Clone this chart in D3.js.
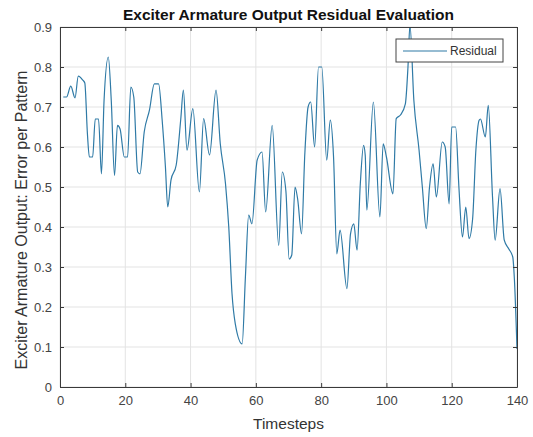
<!DOCTYPE html>
<html>
<head>
<meta charset="utf-8">
<script src="https://cdn.jsdelivr.net/npm/d3@7"></script>
<style>
  body { margin: 0; background: #fff; }
  text { font-family: "Liberation Sans", Arial, sans-serif; }
</style>
</head>
<body>
<div id="chart"></div>
<script>
// values (vertices of the residual trace)
const timesteps = [1, 2, 3.3, 4.6, 5.6, 7, 7.6, 8.4, 9, 10, 10.8, 11.8, 12.7, 13.5, 14.8, 15.7, 16.7, 17.6, 18.4,
  19.7, 20.7, 21.7, 22.6, 23.8, 24.5, 25.8, 27.4, 28.9, 30.2, 31.3, 32.3, 33, 34, 35.6, 37, 37.8, 38.9, 40.7,
  42.7, 44, 45.8, 47.8, 49.1, 50.7, 51.7, 52.7, 53.7, 55.8, 56.8, 57.8, 58.8, 60.4, 61.9, 63, 65, 67, 68.1,
  69.2, 70.2, 71, 72, 72.8, 74, 75, 76, 76.8, 78, 79.2, 80.2, 81.7, 82.8, 83.8, 84.8, 85.8, 87.9, 89, 90, 91,
  92, 93, 93.5, 94, 96, 98, 99, 100, 102, 103, 104.3, 105.8, 106.6, 107.2, 108.4, 110, 111, 112.2, 113.2,
  114.3, 115.3, 117.1, 118, 119.2, 120, 121.2, 122.2, 123.3, 124.3, 125.3, 126.4, 127.4, 128.4, 128.8, 130.3,
  131.2, 132.5, 133.3, 134.8, 136.1, 137.5, 138.7, 139.2, 140];
const residual = [0.725, 0.725, 0.752, 0.723, 0.777, 0.767, 0.76, 0.633, 0.575, 0.575, 0.67, 0.67, 0.533, 0.717,
  0.825, 0.717, 0.529, 0.654, 0.645, 0.575, 0.575, 0.75, 0.725, 0.5375, 0.533, 0.6375, 0.692, 0.758, 0.758,
  0.667, 0.55, 0.45, 0.517, 0.555, 0.67, 0.742, 0.592, 0.696, 0.4875, 0.671, 0.58, 0.742, 0.608, 0.508, 0.4,
  0.233, 0.158, 0.108, 0.275, 0.43, 0.408, 0.567, 0.5875, 0.4375, 0.654, 0.354, 0.5375, 0.49, 0.32, 0.33,
  0.5, 0.47, 0.383, 0.583, 0.7, 0.7125, 0.6, 0.8, 0.8, 0.567, 0.667, 0.575, 0.333, 0.392, 0.246, 0.383,
  0.408, 0.342, 0.508, 0.604, 0.58, 0.442, 0.7125, 0.425, 0.608, 0.575, 0.483, 0.671, 0.68, 0.708, 0.8,
  0.905, 0.717, 0.592, 0.5, 0.396, 0.5, 0.558, 0.475, 0.6125, 0.6, 0.458, 0.65, 0.65, 0.5, 0.375, 0.45,
  0.371, 0.42, 0.592, 0.667, 0.67, 0.625, 0.704, 0.475, 0.367, 0.496, 0.367, 0.345, 0.325, 0.27, 0.095];
const xTicks = [0, 20, 40, 60, 80, 100, 120, 140];
const yTicks = [0, 0.1, 0.2, 0.3, 0.4, 0.5, 0.6, 0.7, 0.8, 0.9];

const W = 533, H = 437;
const margin = {top: 27, right: 16, bottom: 50, left: 60};
const w = W - margin.left - margin.right;
const h = H - margin.top - margin.bottom;

const svg = d3.select("#chart").append("svg").attr("width", W).attr("height", H);
const g = svg.append("g").attr("transform", `translate(${margin.left},${margin.top})`);

const x = d3.scaleLinear().domain([0, 140]).range([0, w]);
const y = d3.scaleLinear().domain([0, 0.9]).range([h, 0]);

// grid
g.append("g").selectAll("line").data(xTicks).join("line")
  .attr("x1", d => x(d)).attr("x2", d => x(d)).attr("y1", 0).attr("y2", h)
  .attr("stroke", "#e3e3e3").attr("stroke-width", 1);
g.append("g").selectAll("line").data(yTicks).join("line")
  .attr("y1", d => y(d)).attr("y2", d => y(d)).attr("x1", 0).attr("x2", w)
  .attr("stroke", "#e3e3e3").attr("stroke-width", 1);

// clip + data line
svg.append("clipPath").attr("id", "clip").append("rect").attr("width", w).attr("height", h);
const pts = timesteps.map((t, i) => [t, residual[i]]);
g.append("path").datum(pts)
  .attr("clip-path", "url(#clip)")
  .attr("fill", "none").attr("stroke", "#2f7aa6").attr("stroke-width", 1.2)
  .attr("d", d3.line().curve(d3.curveMonotoneX).x(d => x(d[0])).y(d => y(d[1])));

// axes, MATLAB-like ticks pointing inward
const axCol = "#3a3a3a";
g.append("g").attr("transform", `translate(0,${h})`)
  .call(d3.axisBottom(x).tickValues(xTicks).tickSize(-4).tickPadding(9).tickSizeOuter(0));
g.append("g")
  .call(d3.axisLeft(y).tickValues(yTicks).tickSize(-4).tickPadding(8).tickSizeOuter(0)
    .tickFormat(d => d === 0 ? "0" : d3.format(".1f")(d)));
g.append("g").call(d3.axisTop(x).tickValues(xTicks).tickSize(-4).tickFormat("").tickSizeOuter(0));
g.append("g").attr("transform", `translate(${w},0)`)
  .call(d3.axisRight(y).tickValues(yTicks).tickSize(-4).tickFormat("").tickSizeOuter(0));
g.selectAll(".domain").attr("stroke", axCol);
g.selectAll(".tick line").attr("stroke", axCol);
g.selectAll(".tick text").attr("fill", "#444").style("font-size", "13px")
  .style("font-family", "'Liberation Sans', Arial, sans-serif");

// title and labels
svg.append("text").attr("x", margin.left + w / 2).attr("y", 20).attr("text-anchor", "middle")
  .style("font-size", "15.5px").style("font-weight", "bold").attr("fill", "#111")
  .text("Exciter Armature Output Residual Evaluation");
svg.append("text").attr("x", margin.left + w / 2).attr("y", 429).attr("text-anchor", "middle")
  .style("font-size", "15.5px").attr("fill", "#333").text("Timesteps");
svg.append("text").attr("transform", `translate(27,220) rotate(-90)`)
  .attr("text-anchor", "middle").style("font-size", "16px").attr("fill", "#333")
  .text("Exciter Armature Output: Error per Pattern");

// legend
const lg = svg.append("g").attr("transform", "translate(396,39)");
lg.append("rect").attr("width", 107).attr("height", 23).attr("fill", "#fff")
  .attr("stroke", "#444").attr("stroke-width", 1);
lg.append("line").attr("x1", 7).attr("x2", 51).attr("y1", 12).attr("y2", 12)
  .attr("stroke", "#2f7aa6").attr("stroke-width", 1.2);
lg.append("text").attr("x", 54).attr("y", 16).style("font-size", "12px").attr("fill", "#333").text("Residual");
</script>
</body>
</html>
